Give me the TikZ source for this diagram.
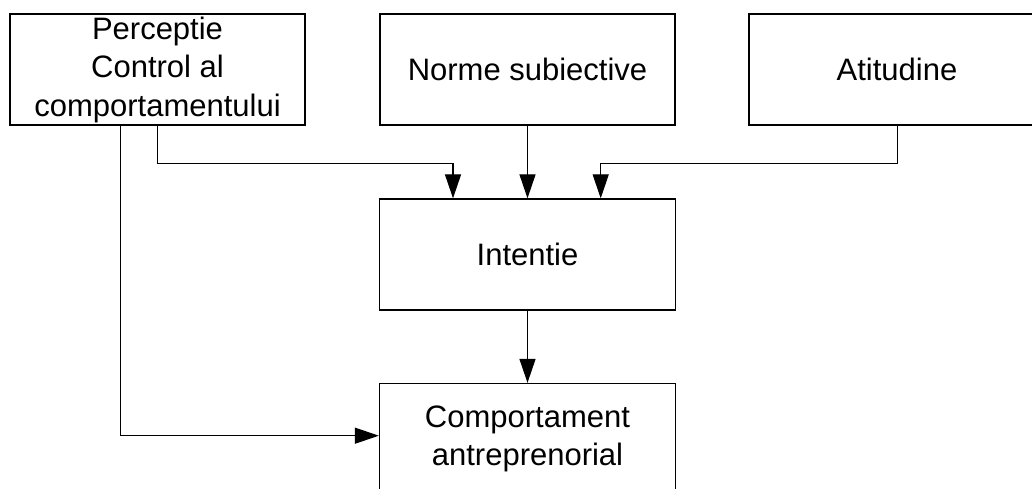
\documentclass[tikz,border=0pt]{standalone}
\usepackage{fontspec}
\setmainfont{Liberation Sans}
\usetikzlibrary{arrows.meta}
\tikzset{
  boxnode/.style={draw=black, line width=1.3pt, minimum width=296pt, minimum height=111pt,
    inner sep=0pt, align=center, font=\fontsize{31}{38.5}\selectfont},
  conn/.style={draw=black, line width=1.3pt},
  arr/.style={conn, -{Triangle[length=24pt, width=16pt]}}
}
\begin{document}
\begin{tikzpicture}[x=1pt, y=-1pt]
\useasboundingbox (0,0) rectangle (1032,489);
\clip (0,0) rectangle (1032,489);
\node[boxnode, minimum width=295pt] (pcc) at (157.5,69.5) {Perceptie\\Control al\\comportamentului};
\node[boxnode, minimum width=295pt] (ns) at (527.5,69.5) {Norme subiective};
\node[boxnode] (at) at (897,69.5) {Atitudine};
\node[boxnode] (in) at (527.5,254.5) {Intentie};
\node[boxnode] (ca) at (527.5,439) {Comportament\\antreprenorial};
\coordinate (j1) at (157.3,163.3);
\coordinate (j3) at (897.3,163.3);
\draw[arr] (pcc.south -| j1) -- (j1) -| ([xshift=-74.5pt]in.north);
\draw[arr] (ns.south) -- (in.north);
\draw[arr] (at.south -| j3) -- (j3) -| ([xshift=73.2pt]in.north);
\draw[arr] (in.south) -- (ca.north);
\coordinate (j2) at (120.7,435.7);
\draw[arr] (pcc.south -| j2) -- (j2) -- (ca.west |- j2);
\end{tikzpicture}
\end{document}
